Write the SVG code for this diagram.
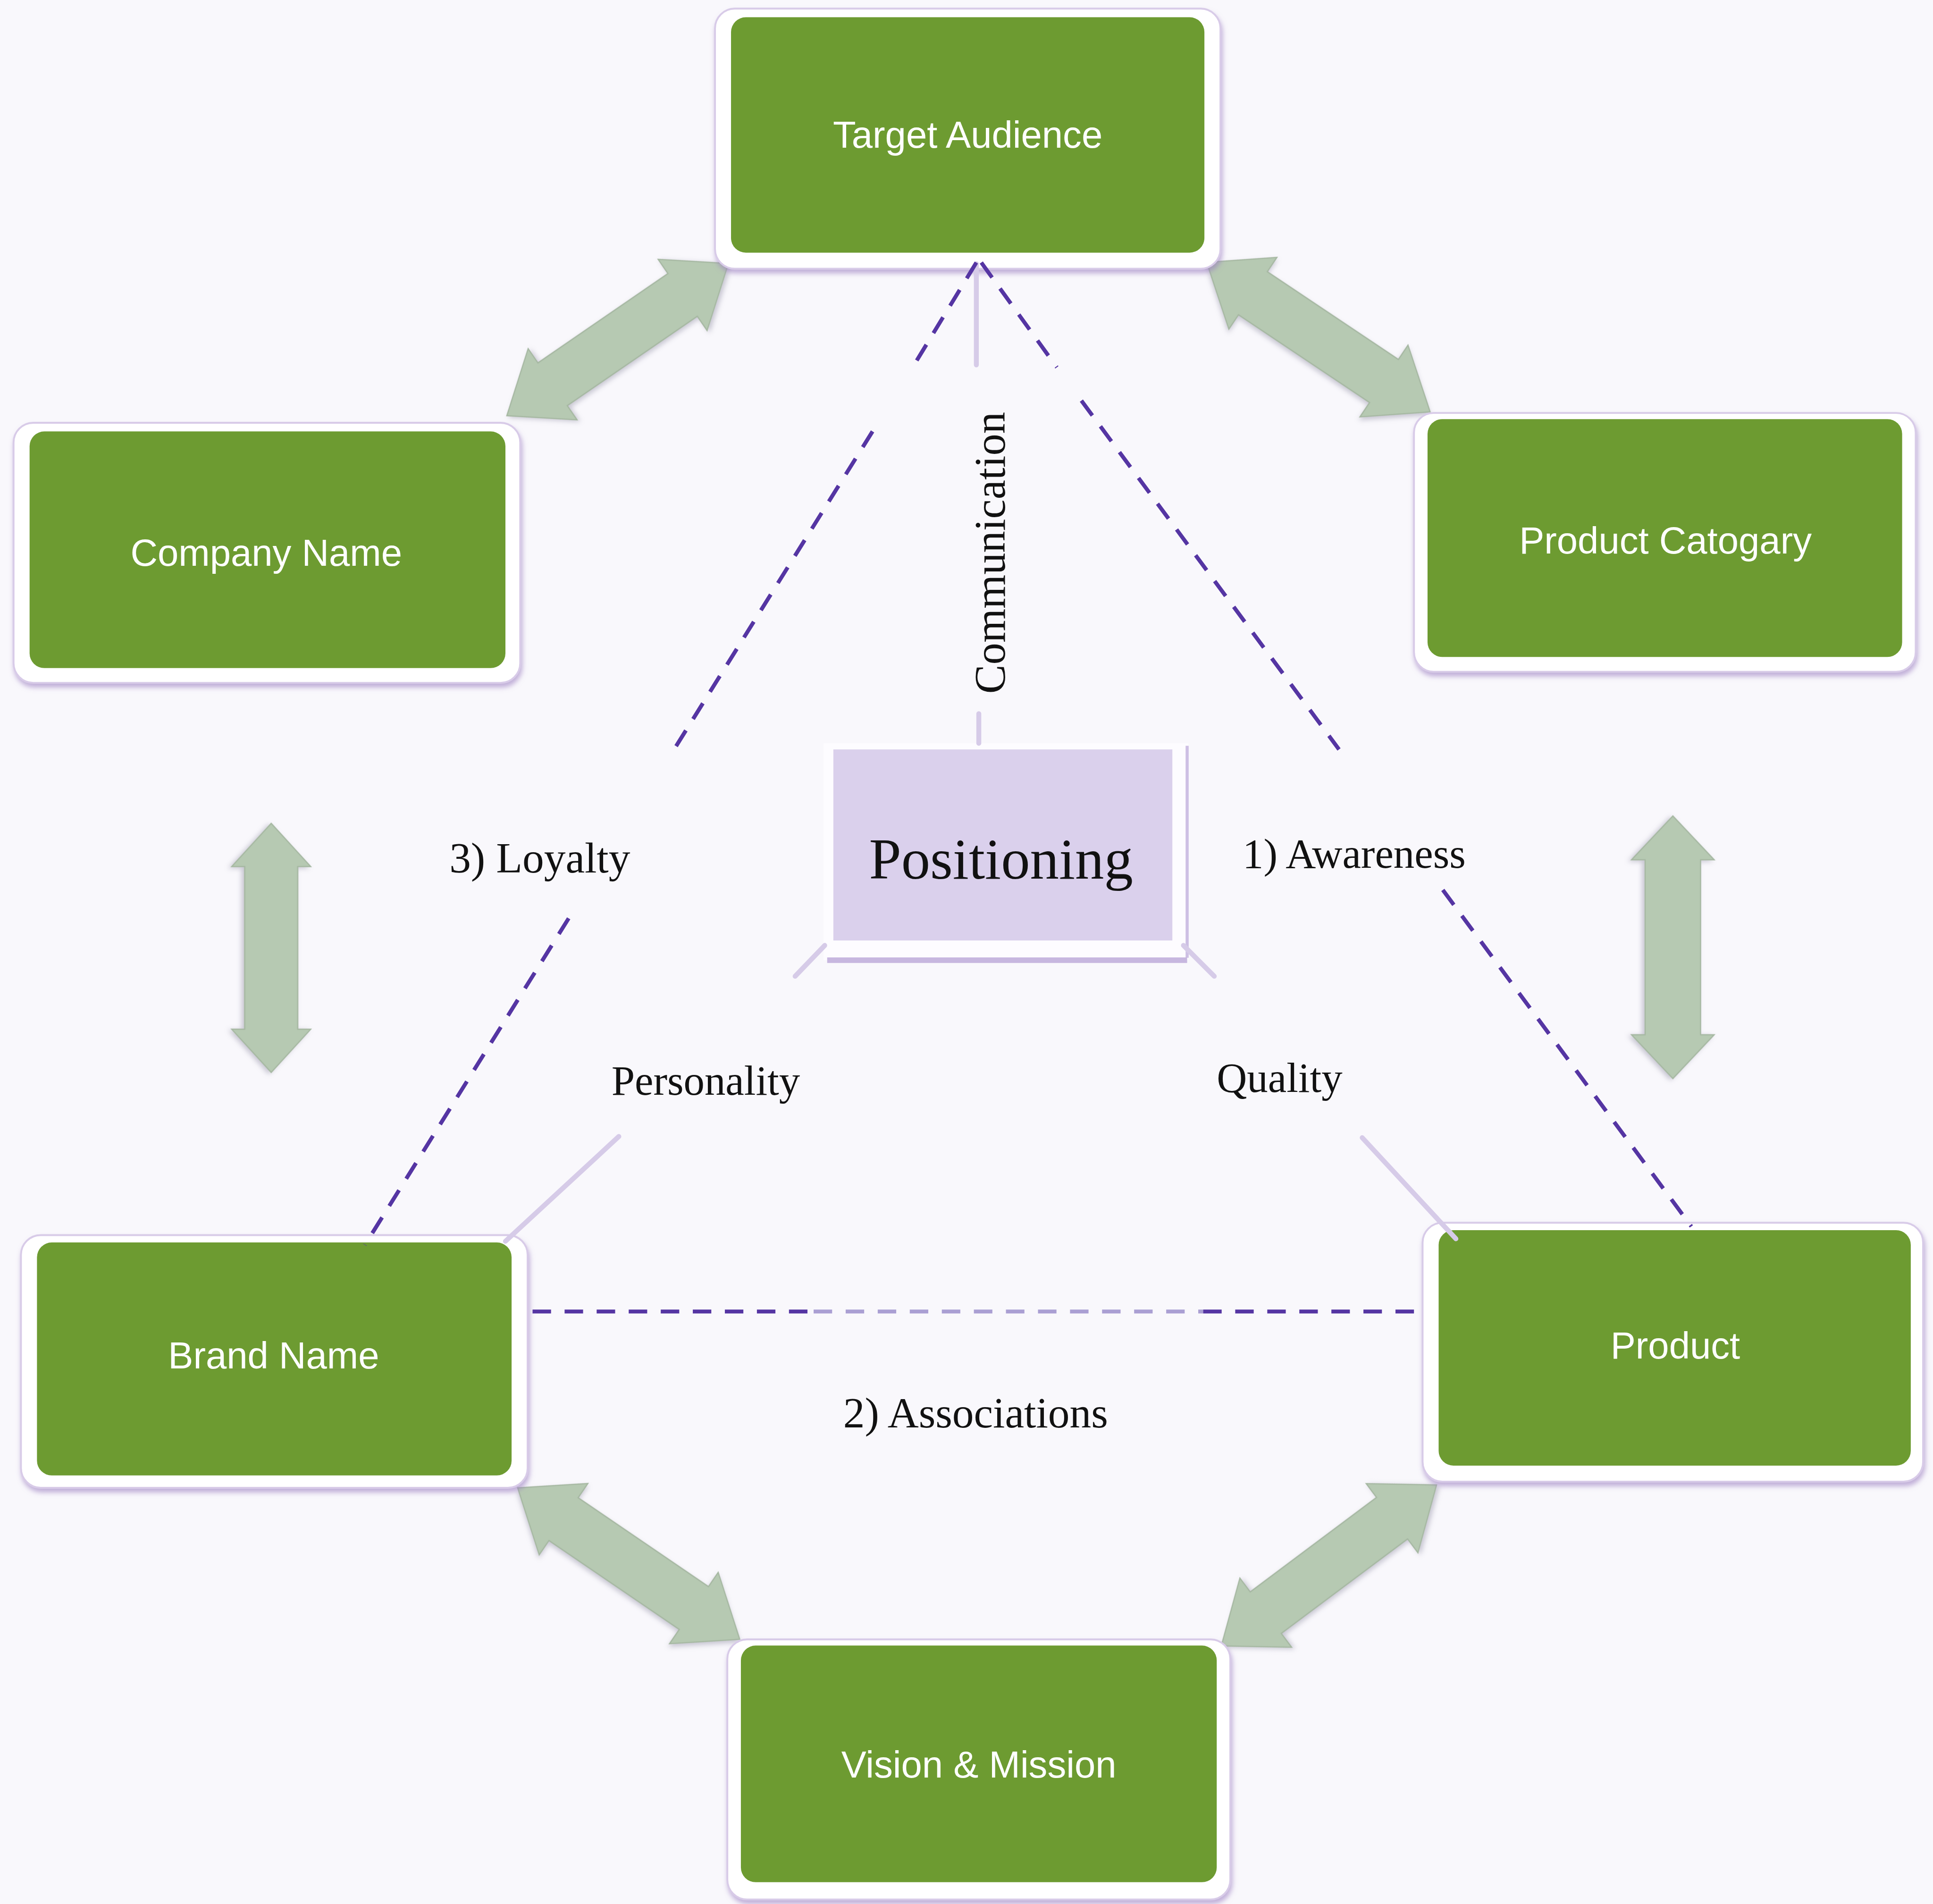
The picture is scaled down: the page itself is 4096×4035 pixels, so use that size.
<svg xmlns="http://www.w3.org/2000/svg" width="4096" height="4035" viewBox="0 0 4096 4035">
  <defs>
    <style>
      .frame { fill: #ffffff; stroke: #d8cbe8; stroke-width: 1.5; filter: url(#frameShadow); }
      .card { fill: #6d9b31; }
      .lbl { font-family: "Liberation Sans", Arial, sans-serif; font-size: 30.5px; fill: #ffffff; text-anchor: middle; }
      .serif { font-family: "Liberation Serif", "Times New Roman", serif; fill: #111111; }
      .dash { fill: none; stroke: #5535a3; stroke-width: 3.2; stroke-dasharray: 15 11; }
      .dash-faint { stroke: #aa9fd3; }
      .edge { fill: none; stroke: #d6cbe8; stroke-width: 4; stroke-linecap: round; }
      .darrow { fill: #b6c9b2; stroke: #a6b8a2; stroke-width: 1; filter: url(#arrowShadow); }
    </style>
    <filter id="frameShadow" x="-10%" y="-10%" width="120%" height="135%">
      <feDropShadow dx="1" dy="3" stdDeviation="2" flood-color="#9a7cc0" flood-opacity="0.6"/>
    </filter>
    <filter id="arrowShadow" x="-20%" y="-30%" width="140%" height="160%">
      <feDropShadow dx="1" dy="2" stdDeviation="2" flood-color="#8a879e" flood-opacity="0.45"/>
    </filter>
    <!-- double-headed block arrows, centred on the origin, pointing along x -->
    <path id="arrow-diag" d="M-109,0 L-64,-35 L-64,-21 L64,-21 L64,-35 L109,0 L64,35 L64,21 L-64,21 L-64,35 Z"/>
    <path id="arrow-left" d="M-101,0 L-66,-32 L-66,-21.5 L66,-21.5 L66,-32 L101,0 L66,32 L66,21.5 L-66,21.5 L-66,32 Z"/>
    <path id="arrow-right" d="M-106.5,0 L-71,-33.5 L-71,-22.5 L71,-22.5 L71,-33.5 L106.5,0 L71,33.5 L71,22.5 L-71,22.5 L-71,33.5 Z"/>
  </defs>

  <rect x="0" y="0" width="4096" height="4035" fill="#f9f8fc"/>

  <g transform="scale(2.6122)">
    <!-- block arrows between neighbouring elements -->
    <g id="connectors-arrows">
      <use href="#arrow-diag" class="darrow" transform="translate(501,275.5) rotate(-34.5)"/>
      <use href="#arrow-diag" class="darrow" transform="translate(1069.5,273.5) rotate(33.8)"/>
      <use href="#arrow-left" class="darrow" transform="translate(220,769) rotate(90)"/>
      <use href="#arrow-right" class="darrow" transform="translate(1357,768.5) rotate(90)"/>
      <use href="#arrow-diag" class="darrow" transform="translate(510,1268.5) rotate(34.3)"/>
      <use href="#arrow-diag" class="darrow" transform="translate(1078,1270) rotate(-36.8)"/>
    </g>

    <!-- central pyramid top -->
    <g id="node-positioning">
      <rect x="668" y="603" width="296" height="176" fill="#fdfcff"/>
      <line x1="963" y1="605" x2="963" y2="777" stroke="#cdbfe4" stroke-width="2.5"/>
      <line x1="671" y1="779" x2="963" y2="779" stroke="#c7b7df" stroke-width="4.5"/>
      <rect x="676" y="608" width="275" height="155" fill="#dad0ec"/>
      <text x="812" y="713" class="serif" font-size="47" text-anchor="middle">Positioning</text>
    </g>

    <g id="node-target-audience">
      <rect class="frame" x="580" y="7" width="410" height="211" rx="16"/>
      <rect class="card" x="593" y="14" width="384" height="191" rx="12"/>
      <text class="lbl" x="785" y="120">Target Audience</text>
    </g>

    <g id="node-company-name">
      <rect class="frame" x="11" y="343" width="411" height="211" rx="16"/>
      <rect class="card" x="24" y="350" width="386" height="192" rx="12"/>
      <text class="lbl" x="216" y="459">Company Name</text>
    </g>

    <g id="node-product-category">
      <rect class="frame" x="1147" y="335" width="407" height="210" rx="16"/>
      <rect class="card" x="1158" y="340" width="385" height="193" rx="12"/>
      <text class="lbl" x="1351" y="449">Product Catogary</text>
    </g>

    <g id="node-brand-name">
      <rect class="frame" x="17" y="1002" width="411" height="205" rx="16"/>
      <rect class="card" x="30" y="1008" width="385" height="189" rx="12"/>
      <text class="lbl" x="222" y="1110">Brand Name</text>
    </g>

    <g id="node-product">
      <rect class="frame" x="1154" y="992" width="406" height="210" rx="16"/>
      <rect class="card" x="1167" y="998" width="383" height="191" rx="12"/>
      <text class="lbl" x="1359" y="1102">Product</text>
    </g>

    <g id="node-vision-mission">
      <rect class="frame" x="590" y="1330" width="408" height="211" rx="16"/>
      <rect class="card" x="601" y="1335" width="386" height="192" rx="12"/>
      <text class="lbl" x="794" y="1442">Vision &amp; Mission</text>
    </g>

    <!-- lines of the triangle and pyramid -->
    <g id="connectors-lines">
      <line class="edge" x1="792" y1="214" x2="792" y2="296"/>
      <line class="edge" x1="794" y1="579" x2="794" y2="603"/>
      <line class="edge" x1="669" y1="767" x2="645" y2="792"/>
      <line class="edge" x1="502" y1="922" x2="410" y2="1007"/>
      <line class="edge" x1="960" y1="767" x2="985" y2="792"/>
      <line class="edge" x1="1105" y1="923" x2="1181" y2="1005"/>

      <!-- left side: Target Audience to Brand Name -->
      <line class="dash" x1="792" y1="213" x2="741.5" y2="296"/>
      <line class="dash" x1="707.8" y1="350" x2="544.3" y2="612"/>
      <line class="dash" x1="461.3" y1="745" x2="296" y2="1010"/>
      <!-- right side: Target Audience to Product -->
      <line class="dash" x1="796" y1="213" x2="857.3" y2="298"/>
      <line class="dash" x1="877.2" y1="325" x2="1086.2" y2="608"/>
      <line class="dash" x1="1170.4" y1="722" x2="1372" y2="995"/>
      <!-- base: Brand Name to Product -->
      <line class="dash" x1="432" y1="1064" x2="660" y2="1064"/>
      <line class="dash dash-faint" x1="660" y1="1064" x2="976" y2="1064"/>
      <line class="dash" x1="976" y1="1064" x2="1152" y2="1064"/>
    </g>

    <!-- edge labels -->
    <g id="labels">
      <text class="serif" font-size="35.5" text-anchor="middle" transform="translate(815,448.5) rotate(-90)">Communication</text>
      <text class="serif" font-size="35" x="364.5" y="708">3) Loyalty</text>
      <text class="serif" font-size="34" x="1008" y="704">1) Awareness</text>
      <text class="serif" font-size="34" x="496" y="888">Personality</text>
      <text class="serif" font-size="34" x="987" y="886">Quality</text>
      <text class="serif" font-size="35" x="684" y="1158">2) Associations</text>
    </g>
  </g>
</svg>
